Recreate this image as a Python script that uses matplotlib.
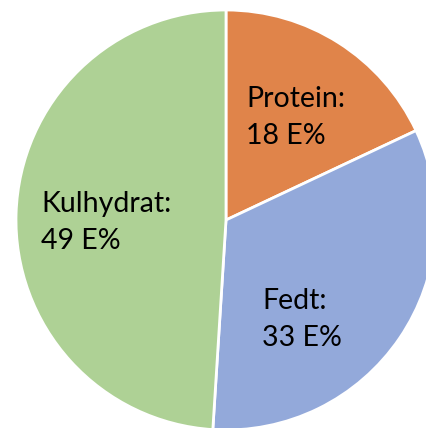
import matplotlib
matplotlib.use('Agg')
import matplotlib.pyplot as plt

labels = ['Protein', 'Fedt', 'Kulhydrat']
values = [18, 33, 49]
colors = ['#E0844A', '#93A9DA', '#AED195']

W, H = 426, 428
fig = plt.figure(figsize=(W / 100, H / 100), dpi=100)
# pie centre (226, 220) px from top-left, radius 210 px
cx, cy, r = 226, 220, 210
ax = fig.add_axes([(cx - r) / W, (H - cy - r) / H, 2 * r / W, 2 * r / H])
ax.pie(values, colors=colors, startangle=90, counterclock=False,
       wedgeprops={'edgecolor': 'white', 'linewidth': 2})
ax.set_xlim(-1, 1)
ax.set_ylim(-1, 1)
ax.set_aspect('auto')
ax.axis('off')

hfont = {'family': 'Lato', 'size': 20.5}
# first-line baseline positions in px (x left, y from top)
label_pos = [(246, 107), (262, 309), (41, 212)]
for name, v, (x, y) in zip(labels, values, label_pos):
    fig.text(x / W, 1 - y / H, name + ':', ha='left', va='baseline', **hfont)
    fig.text(x / W, 1 - (y + 37) / H, f'{v} E%', ha='left', va='baseline', **hfont)

fig.savefig('out.png', dpi=100)
